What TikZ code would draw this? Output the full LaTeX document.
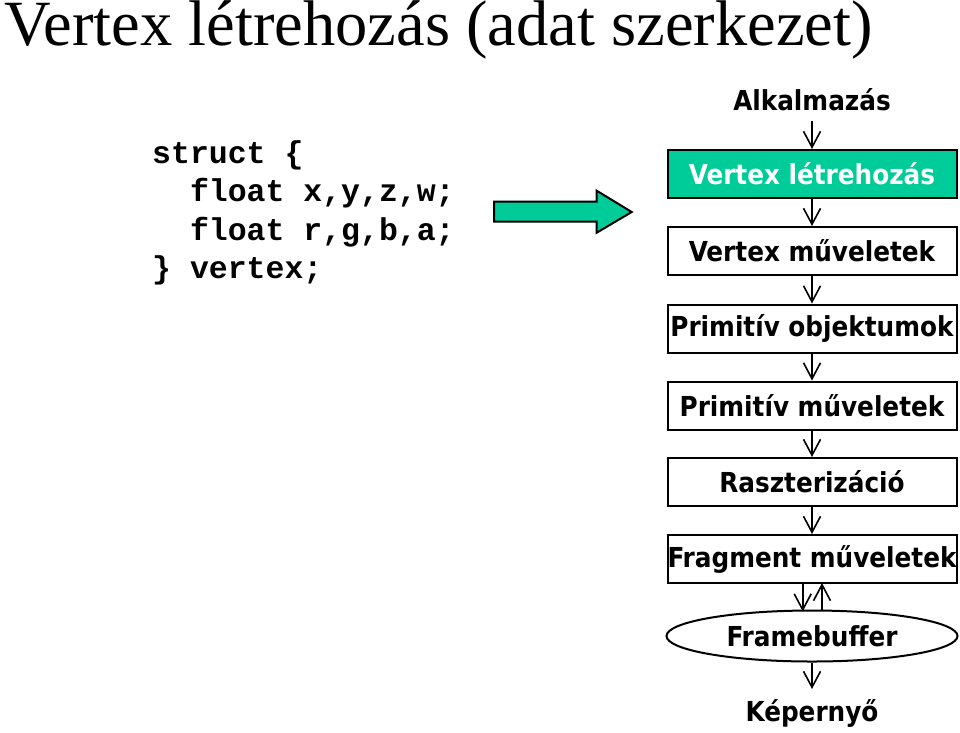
\documentclass[tikz,border=0pt]{standalone}
\usepackage{fontspec}
\setmainfont{Liberation Serif}
\newfontfamily\boxfont{DejaVu Sans Condensed}[BoldFont={DejaVu Sans Condensed Bold}]
\newfontfamily\codefont{Liberation Mono}
\usetikzlibrary{arrows.meta,shapes.geometric}
\definecolor{tgreen}{RGB}{0,204,153}
\tikzset{
  stagebox/.style={draw=black,line width=2pt,minimum width=289pt,minimum height=48pt,inner sep=0pt,
    font=\boxfont\bfseries\fontsize{27.5}{30}\selectfont},
  plain/.style={inner sep=0pt,font=\boxfont\bfseries\fontsize{27.5}{30}\selectfont},
  flow/.style={line width=1.6pt,-{Straight Barb[length=16pt,width=17pt,line width=1.6pt]}},
  codeline/.style={anchor=base west,inner sep=0pt,font=\codefont\bfseries\fontsize{31.5}{34}\selectfont}
}
\begin{document}
\begin{tikzpicture}[x=1pt,y=-1pt]
\useasboundingbox (0,0) rectangle (960,732);
\node[anchor=base west,inner sep=0pt,font=\fontsize{64.5}{68}\selectfont] (title) at (4,45.5) {Vertex létrehozás (adat szerkezet)};
\node[codeline] (c1) at (152,163) {struct \{};
\node[codeline] (c2) at (152,201.5) {\ \ float x,y,z,w;};
\node[codeline] (c3) at (152,240) {\ \ float r,g,b,a;};
\node[codeline] (c4) at (152,278.5) {\} vertex;};
\draw[line width=2pt,fill=tgreen,line join=miter]
  (494,201.7) -- (596.7,201.7) -- (596.7,190.7) -- (631.7,212) -- (596.7,232.7) -- (596.7,221.7) -- (494,221.7) -- cycle;
\node[plain] (app) at (812,100) {Alkalmazás};
\node[stagebox,fill=tgreen,text=white] (b1) at (812,174) {Vertex létrehozás};
\node[stagebox] (b2) at (812,251) {Vertex műveletek};
\node[stagebox] (b3) at (812,328.5) {Primitív objektumok};
\node[stagebox] (b4) at (812,405.5) {Primitív műveletek};
\node[stagebox] (b5) at (812,482) {Raszterizáció};
\node[stagebox] (b6) at (812,559) {Fragment műveletek};
\node[draw=black,line width=2pt,ellipse,minimum width=291pt,minimum height=51pt,inner sep=0pt,
  font=\boxfont\bfseries\fontsize{27.5}{30}\selectfont] (fb) at (812,636) {Framebuffer};
\node[plain] (scr) at (812,713) {Képernyő};
\coordinate (a0) at (812,121);
\draw[flow] (a0) -- (b1.north);
\draw[flow] (b1) -- (b2);
\draw[flow] (b2) -- (b3);
\draw[flow] (b3) -- (b4);
\draw[flow] (b4) -- (b5);
\draw[flow] (b5) -- (b6);
\coordinate (d1) at (802.7,583);
\coordinate (d2) at (802.7,611.5);
\coordinate (u1) at (822,611);
\coordinate (u2) at (822,583);
\draw[flow] (d1) -- (d2);
\draw[flow] (u1) -- (u2);
\coordinate (s0) at (812,689);
\draw[flow] (fb.south) -- (s0);
\end{tikzpicture}
\end{document}
